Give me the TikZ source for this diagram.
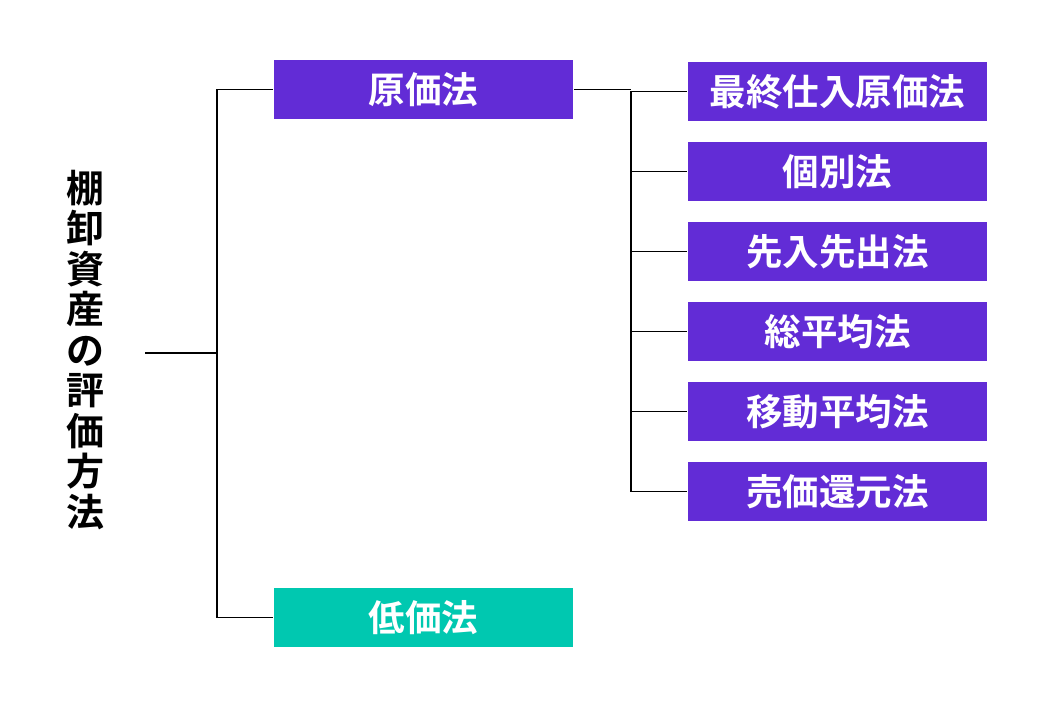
\documentclass[tikz,border=0pt]{standalone}
\usepackage{fontspec}
\newfontfamily\cjk{Noto Sans CJK JP}[BoldFont={* Bold}]
\usetikzlibrary{calc}
\definecolor{cost}{RGB}{98,44,214}
\definecolor{low}{RGB}{0,200,176}

\begin{document}
\begin{tikzpicture}[x=1pt,y=-1pt,line width=1.5pt,
    box/.style={minimum width=299pt, minimum height=59pt, inner sep=0pt, font=\cjk\bfseries\fontsize{36.5}{38}\selectfont\color{white}},
    cost box/.style={box, fill=cost},
    low box/.style={box, fill=low},
    conn/.style={draw=black}
  ]
  \useasboundingbox (0,0) rectangle (1048,708);

  % title, set vertically
  \node [align=center, font=\cjk\bfseries\fontsize{38}{40.5}\selectfont] (title) at (85,350)
    {棚\\卸\\資\\産\\の\\評\\価\\方\\法};

  \node [cost box] (genka) at (423.5,89.5) {原価法};
  \node [low box] (teika) at (423.5,617.5) {低価法};

  \foreach \t [count=\i] in {最終仕入原価法,個別法,先入先出法,総平均法,移動平均法,売価還元法}
    \node [cost box] (m\i) at (837.5,{91.5+80*(\i-1)}) {\t};

  \coordinate (root) at (145,353);
  \coordinate (trunk) at (217,353);
  \coordinate (fork) at (631,90);

  \draw [conn] (root) -- (trunk);
  \draw [conn] (genka.west -| trunk) -- (teika.west -| trunk);
  \draw [conn] (genka.west -| trunk) -- (genka.west);
  \draw [conn] (teika.west -| trunk) -- (teika.west);

  \draw [conn] (genka.east) -- (genka.east -| fork);
  \draw [conn] (m1.west -| fork) -- (m6.west -| fork);
  \foreach \i in {1,...,6}
    \draw [conn] (m\i.west -| fork) -- (m\i.west);
\end{tikzpicture}
\end{document}
